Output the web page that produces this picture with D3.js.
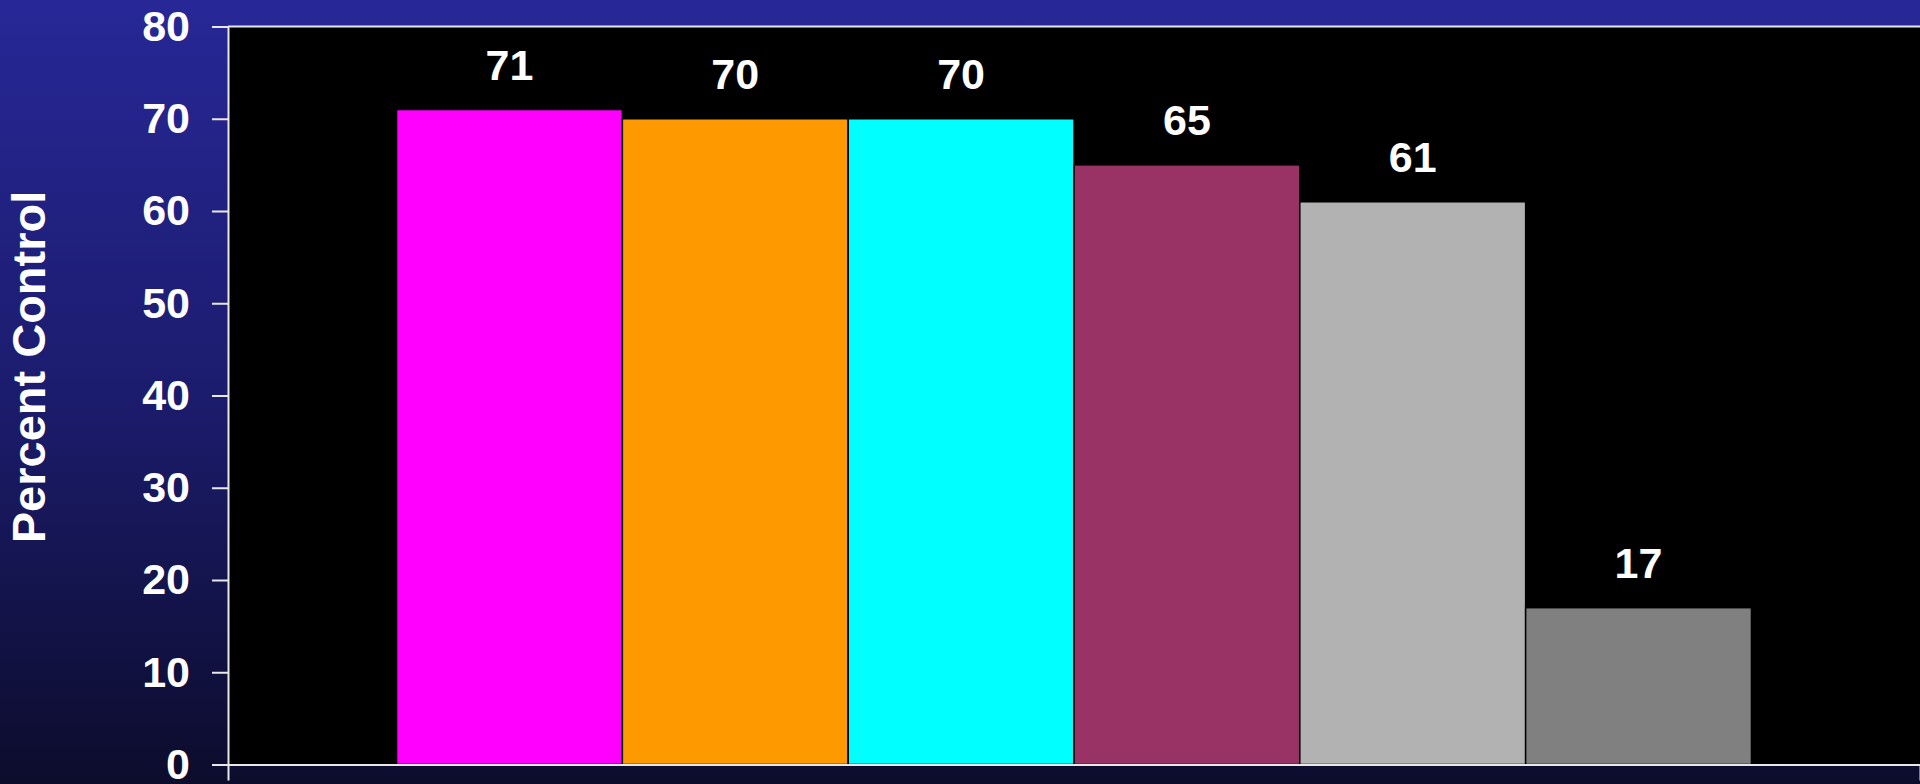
<!DOCTYPE html>
<html>
<head>
<meta charset="utf-8">
<script src="https://cdn.jsdelivr.net/npm/d3@7/dist/d3.min.js"></script>
<style>
  html, body { margin: 0; padding: 0; background: #0c0c2c; }
  svg { display: block; }
  text { font-family: "Liberation Sans", Arial, sans-serif; font-weight: bold; fill: #ffffff; }
</style>
</head>
<body>
<svg id="chart" width="1920" height="784"></svg>
<script>
// ---- data ----
const categories = [""];
const seriesNames = ["S1", "S2", "S3", "S4", "S5", "S6"];
const seriesValues = [71, 70, 70, 65, 61, 17];
const seriesColors = ["#ff00ff", "#ff9900", "#00ffff", "#993366", "#b2b2b2", "#808080"];
const yTicks = [0, 10, 20, 30, 40, 50, 60, 70, 80];
const yTitle = "Percent Control";

// ---- layout ----
const W = 1920, H = 784;
const plot = { left: 228, right: 1920, top: 26.5, bottom: 764.5 };

const svg = d3.select("#chart");
const defs = svg.append("defs");
const grad = defs.append("linearGradient").attr("id", "bg")
  .attr("x1", 0).attr("y1", 0).attr("x2", 0).attr("y2", 1);
grad.append("stop").attr("offset", "0%").attr("stop-color", "#272797");
grad.append("stop").attr("offset", "50%").attr("stop-color", "#1c1c6e");
grad.append("stop").attr("offset", "100%").attr("stop-color", "#0c0c2c");
svg.append("rect").attr("width", W).attr("height", H).attr("fill", "url(#bg)");

const y = d3.scaleLinear().domain([0, 80]).range([plot.bottom, plot.top]);
const x0 = d3.scaleBand().domain(categories).range([plot.left, plot.right]).paddingOuter(0.1244).paddingInner(0);
const x1 = d3.scaleBand().domain(seriesNames).range([0, x0.bandwidth()]).padding(0);

// plot area
svg.append("rect")
  .attr("x", plot.left).attr("y", plot.top)
  .attr("width", plot.right - plot.left).attr("height", plot.bottom - plot.top)
  .attr("fill", "#000000");

// bars
const data = seriesNames.map((s, i) => ({ s, v: seriesValues[i], c: seriesColors[i] }));
const g = svg.append("g").attr("transform", `translate(${x0("")},0)`);
g.selectAll("rect.bar").data(data).enter().append("rect")
  .attr("class", "bar")
  .attr("x", d => x1(d.s))
  .attr("y", d => y(d.v))
  .attr("width", x1.bandwidth())
  .attr("height", d => y(0) - y(d.v))
  .attr("fill", d => d.c)
  .attr("stroke", "#000000")
  .attr("stroke-width", 1.5);

g.selectAll("text.lbl").data(data).enter().append("text")
  .attr("class", "lbl")
  .attr("x", d => x1(d.s) + x1.bandwidth() / 2)
  .attr("y", d => y(d.v) - 30)
  .attr("text-anchor", "middle")
  .attr("font-size", 43)
  .text(d => d.v);

// top border of plot
svg.append("line")
  .attr("x1", plot.left).attr("x2", plot.right)
  .attr("y1", plot.top).attr("y2", plot.top)
  .attr("stroke", "#e8e8f0").attr("stroke-width", 2);

// y axis
const yAxis = d3.axisLeft(y).tickValues(yTicks).tickSize(16).tickSizeOuter(0).tickPadding(22);
const ya = svg.append("g").attr("transform", `translate(${plot.left},0)`).call(yAxis);
ya.select(".domain").attr("stroke", "#e8e8e8").attr("stroke-width", 2);
ya.selectAll(".tick line").attr("stroke", "#e8e8e8").attr("stroke-width", 2);
ya.selectAll(".tick text").attr("font-size", 43).attr("fill", "#ffffff")
  .style("font-family", '"Liberation Sans", Arial, sans-serif').style("font-weight", "bold");

// x axis
const xAxis = d3.axisBottom(x0).tickValues([]).tickSizeOuter(16);
const xa = svg.append("g").attr("transform", `translate(0,${plot.bottom})`).call(xAxis);
xa.select(".domain").attr("stroke", "#e8e8e8").attr("stroke-width", 2);

// y title
svg.append("text")
  .attr("transform", `translate(45,367) rotate(-90)`)
  .attr("text-anchor", "middle")
  .attr("font-size", 47)
  .text(yTitle);
</script>
</body>
</html>
